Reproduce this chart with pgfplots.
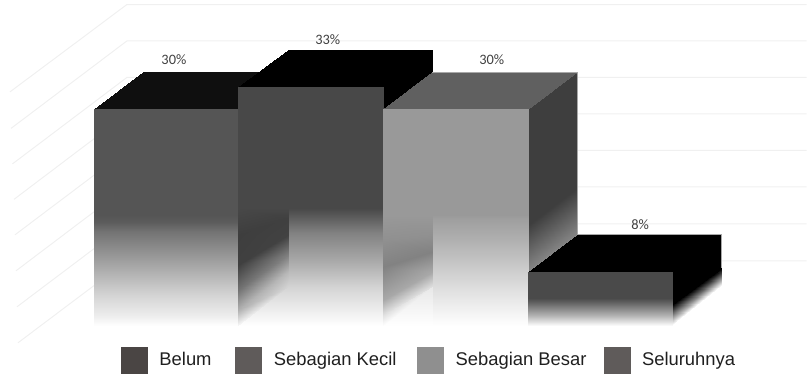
\documentclass[border=0pt]{standalone}
\usepackage{fontspec}
\usepackage{pgfplots}
\pgfplotsset{compat=1.18}
\setmainfont{Liberation Sans}
\newfontfamily\valuefont{Carlito}
\definecolor{gridgray}{HTML}{F0F0F0}
\definecolor{edgegray}{HTML}{A8A8A8}
\definecolor{keya}{HTML}{4A4544}
\definecolor{keyb}{HTML}{5F5B5A}
\definecolor{keyc}{HTML}{8F8F8F}
\definecolor{keyd}{HTML}{5F5B5A}
\definecolor{valuetext}{HTML}{404040}
\definecolor{keytext}{HTML}{1F1F1F}
\newcommand{\keysquare}[1]{\fill[#1] (0pt,-9.75pt) rectangle (19.5pt,9.75pt);}
\pgfplotsset{
  face/.style={forget plot, patch, patch type=rectangle, shader=interp, point meta=explicit},
  wall/.style={forget plot, color=gridgray, line width=0.75pt, no marks},
  rim/.style={forget plot, color=edgegray, line width=0.5pt, no marks},
}
\begin{document}
\begin{tikzpicture}
\begin{axis}[
  hide axis, scale only axis,
  width=605.25pt, height=280.5pt,
  xmin=0, xmax=807, ymin=-5.762, ymax=44.71,
  clip=false,
  colormap={greys}{gray=(0) gray=(1)},
  point meta min=0, point meta max=255,
  legend columns=4,
  legend cell align=left,
  legend style={
    at={(axis cs:121,-2.12)}, anchor=north west,
    draw=none, fill=none, inner sep=0pt, outer sep=0pt,
    font=\fontsize{13.8}{16}\selectfont\color{keytext},
    nodes={inner sep=0pt, outer sep=0pt},
    /tikz/every even column/.append style={column sep=9pt},
  },
]
% picture frame, keeps the page at the full plot area
\addplot[forget plot, draw=none, no marks] coordinates {(0,-5.762)(807,44.71)};
% back wall and side wall rules
\addplot[wall] coordinates {(10,32.30)(127,44.10)(807,44.10)};
\addplot[wall] coordinates {(11,27.37)(127,39.18)(807,39.18)};
\addplot[wall] coordinates {(12.5,22.58)(127,34.25)(807,34.25)};
\addplot[wall] coordinates {(14,17.79)(127,29.33)(807,29.33)};
\addplot[wall] coordinates {(15,13.00)(127,24.40)(807,24.40)};
\addplot[wall] coordinates {(16,8.14)(127,19.47)(807,19.47)};
\addplot[wall] coordinates {(17,3.28)(127,14.48)(807,14.48)};
\addplot[wall] coordinates {(18,-1.58)(127,9.49)(807,9.49)};

% Belum: 30 %
\addplot[face] table[meta=g] {
x y g
94 30 15
238.5 30 15
288 35 15
143.5 35 15
94 15.70 85
238.5 15.70 85
238.5 30 85
94 30 85
94 14.75 92
238.5 14.75 92
238.5 15.70 85
94 15.70 85
94 13.40 116
238.5 13.40 116
238.5 14.75 92
94 14.75 92
94 9.62 158
238.5 9.62 158
238.5 13.40 116
94 13.40 116
94 4.90 212
238.5 4.90 212
238.5 9.62 158
94 9.62 158
94 2.20 236
238.5 2.20 236
238.5 4.90 212
94 4.90 212
94 0.72 255
238.5 0.72 255
238.5 2.20 236
94 2.20 236
};
% Sebagian Kecil: 33 %
\addplot[face] table[meta=g] {
x y g
383 33 0
432.5 38 0
432.5 33 0
383 28 0
238.5 33 0
383 33 0
432.5 38 0
288 38 0
238.5 16.64 72
383 16.64 72
383 33 72
238.5 33 72
288 15.50 90
383 15.50 90
383 16.64 72
288 16.64 72
288 13.27 130
383 13.27 130
383 15.50 90
288 15.50 90
288 9.62 168
383 9.62 168
383 13.27 130
288 13.27 130
288 5.98 212
383 5.98 212
383 9.62 168
288 9.62 168
288 0.72 255
383 0.72 255
383 5.98 212
288 5.98 212
238.5 13.00 62
288 15.29 64
288 16.64 72
238.5 16.64 72
238.5 8.95 64
288 13.00 66
288 15.29 64
238.5 13.00 62
238.5 5.57 114
288 10.30 128
288 13.00 66
238.5 8.95 64
238.5 2.87 176
288 8.00 184
288 10.30 128
238.5 5.57 114
238.5 0.72 250
288 5.98 212
288 8.00 184
238.5 2.87 176
238.5 0.72 255
288 0.72 255
288 5.98 212
238.5 0.72 255
};
% Sebagian Besar: 30 %
\addplot[face] table[meta=g] {
x y g
528 30 62
577.5 35 62
577.5 19.34 62
528 14.35 62
528 14.35 62
577.5 19.34 62
577.5 13.00 133
528 8.00 133
383 30 96
528 30 96
577.5 35 96
432.5 35 96
383 15.70 153
528 15.70 153
528 30 153
383 30 153
432.5 15.29 158
528 15.29 158
528 15.70 153
432.5 15.70 153
432.5 12.32 176
528 12.32 176
528 15.29 158
432.5 15.29 158
432.5 8.95 200
528 8.95 200
528 12.32 176
432.5 12.32 176
432.5 5.57 224
528 5.57 224
528 8.95 200
432.5 8.95 200
432.5 0.72 255
528 0.72 255
528 5.57 224
432.5 5.57 224
383 12.32 144
432.5 13.00 144
432.5 15.70 153
383 15.70 153
383 8.68 130
432.5 10.70 130
432.5 13.00 144
383 12.32 144
383 4.22 168
432.5 8.00 168
432.5 10.70 130
383 8.68 130
383 2.20 224
432.5 5.98 224
432.5 8.00 168
383 4.22 168
383 0.72 255
432.5 5.98 232
432.5 5.98 224
383 2.20 224
383 0.72 255
432.5 0.72 255
432.5 5.98 232
383 0.72 255
};
% Seluruhnya: 8 %
\addplot[face] table[meta=g] {
x y g
528 8 0
672.5 8 0
722 13 0
577.5 13 0
672.5 8 0
722 13 0
722 8.54 0
672.5 3.55 0
672.5 3.55 0
722 8.54 0
722 6.25 255
672.5 0.85 255
528 4.49 74
672.5 4.49 74
672.5 8 74
528 8 74
528 3.95 96
672.5 3.95 96
672.5 4.49 74
528 4.49 74
528 2.20 176
672.5 2.20 176
672.5 3.95 96
528 3.95 96
528 0.85 248
672.5 0.85 248
672.5 2.20 176
528 2.20 176
528 0.72 255
672.5 0.72 255
672.5 0.85 248
528 0.85 248
};
% thin rims on the upper faces
\addplot[rim] coordinates {(432.5,35)(577.5,35)(577.5,13)};
\addplot[rim] coordinates {(577.5,13)(722,13)(722,8.5)};
% value labels
\addplot[forget plot, draw=none, no marks, point meta=explicit symbolic,
  nodes near coords, nodes near coords align={center},
  every node near coord/.append style={font=\valuefont\fontsize{10.8}{13}\selectfont, text=valuetext}]
  coordinates {
  (174,36.7) [30\%]
  (328,39.4) [33\%]
  (492,36.7) [30\%]
  (640.5,14.35) [8\%]
};
% key
\addlegendimage{legend image code/.code={\keysquare{keya}}}
\addlegendentry{\makebox[57pt][l]{\hspace{9pt}Belum}}
\addlegendimage{legend image code/.code={\keysquare{keyb}}}
\addlegendentry{\makebox[107.5pt][l]{\hspace{9pt}Sebagian Kecil}}
\addlegendimage{legend image code/.code={\keysquare{keyc}}}
\addlegendentry{\makebox[111pt][l]{\hspace{9pt}Sebagian Besar}}
\addlegendimage{legend image code/.code={\keysquare{keyd}}}
\addlegendentry{\makebox[60pt][l]{\hspace{9pt}Seluruhnya}}
\end{axis}
\end{tikzpicture}
\end{document}
